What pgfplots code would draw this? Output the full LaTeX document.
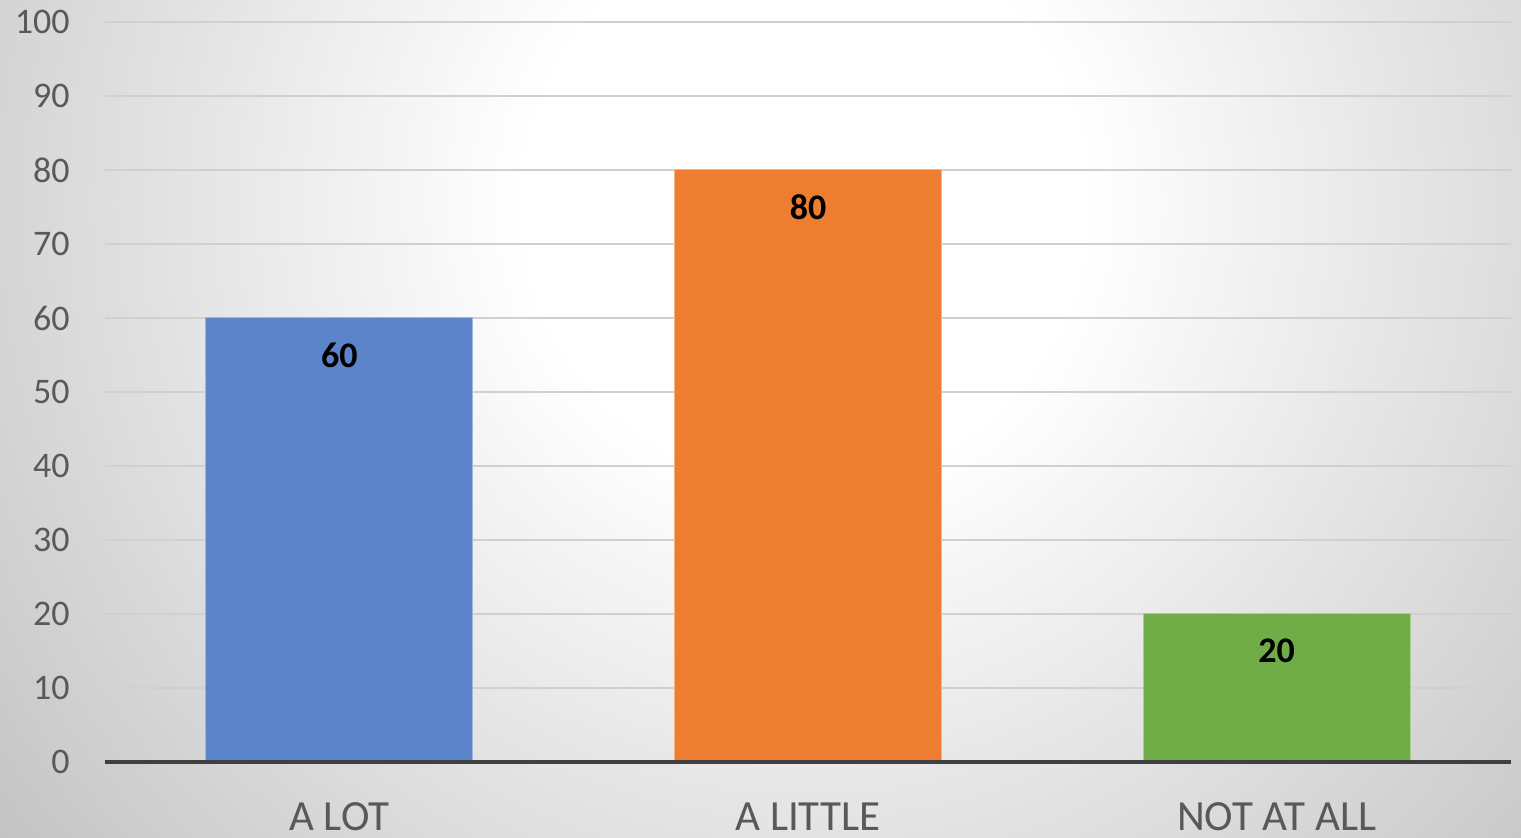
\documentclass[border=0pt]{standalone}
\usepackage{pgfplots}
\pgfplotsset{compat=1.18}
\usepackage{fontspec}
\setmainfont{Carlito}
\definecolor{bggray}{HTML}{BBBBBB}
\definecolor{barblue}{HTML}{5B84CB}
\definecolor{barorange}{HTML}{ED7D31}
\definecolor{bargreen}{HTML}{70AD47}
\definecolor{ticktext}{HTML}{595959}
\definecolor{gridc}{HTML}{D0D0D0}
\definecolor{axisc}{HTML}{404040}
\pgfdeclareradialshading{bgshade}{\pgfpoint{0bp}{0bp}}{color(0bp)=(white); color(140bp)=(white); color(570bp)=(bggray)}
\begin{document}
\begin{tikzpicture}
\useasboundingbox (-52.5bp,-38bp) rectangle (708bp,381bp);
\fill[bggray] (-52.5bp,-38bp) rectangle (708bp,381bp);
\begin{scope}
\clip (-52.5bp,-38bp) rectangle (708bp,381bp);
\node[inner sep=0pt, outer sep=0pt, anchor=center] at (350bp,280bp) {\pgfuseshading{bgshade}};
\end{scope}
\begin{axis}[
  at={(0,0)}, anchor=south west,
  scale only axis, width=703bp, height=370bp,
  xmin=-0.5, xmax=2.5, ymin=0, ymax=100,
  xtick={0,1,2}, xticklabels={A LOT, A LITTLE, NOT AT ALL},
  ytick={0,10,...,100},
  major tick length=0pt,
  axis line style={draw=none},
  ymajorgrids, grid style={gridc, line width=0.75bp},
  /pgf/number format/assume math mode=true,
  yticklabel style={font=\fontsize{18bp}{20bp}\selectfont, text=ticktext, anchor=east, inner sep=0pt, xshift=-17.5bp},
  xticklabel style={font=\fontsize{21.5bp}{24bp}\selectfont, text=ticktext, anchor=base, inner sep=0pt, yshift=-34bp},
  ybar, bar width=133.5bp, bar shift=0pt,
  nodes near coords,
  every node near coord/.append style={font=\fontsize{18bp}{20bp}\selectfont\bfseries, text=black, anchor=center, yshift=-18.5bp},
  clip=false,
]
\addplot[fill=barblue, draw=barblue!60!white, line width=0.5bp] coordinates {(0,60)};
\addplot[fill=barorange, draw=barorange!60!white, line width=0.5bp] coordinates {(1,80)};
\addplot[fill=bargreen, draw=bargreen!60!white, line width=0.5bp] coordinates {(2,20)};
\draw[axisc, line width=2bp] (axis cs:-0.5,0) -- (axis cs:2.5,0);
\end{axis}
\end{tikzpicture}
\end{document}
